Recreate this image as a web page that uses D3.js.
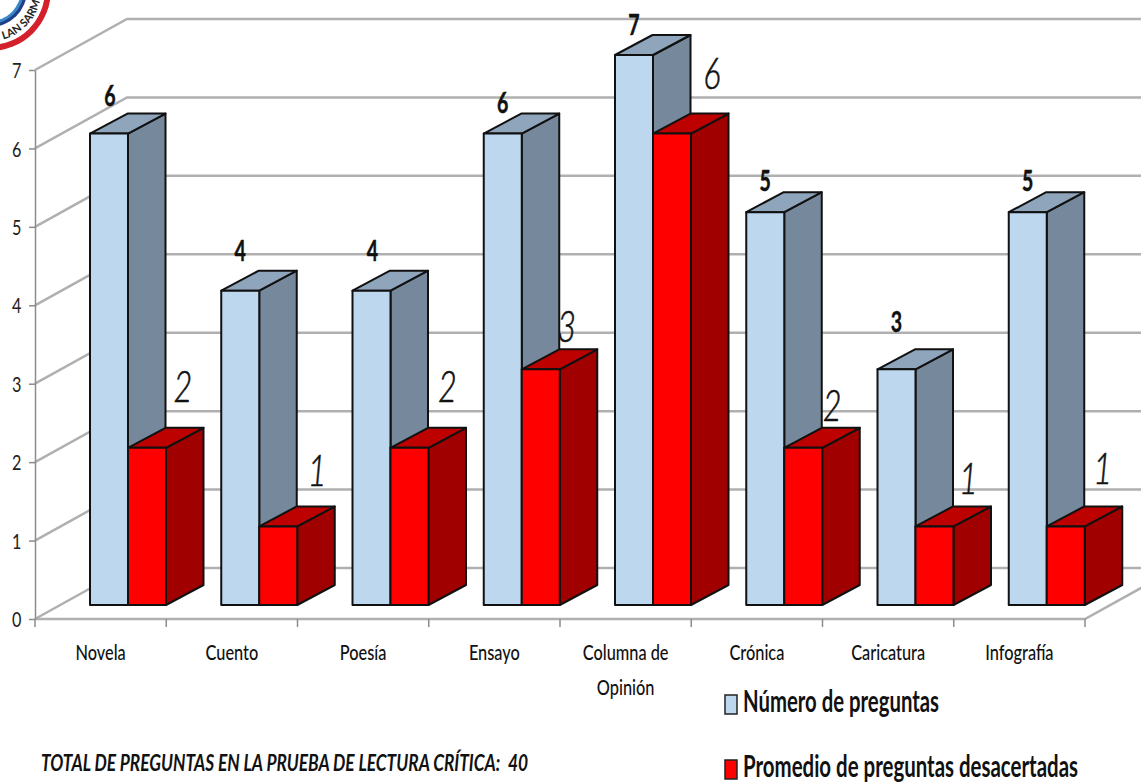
<!DOCTYPE html>
<html>
<head>
<meta charset="utf-8">
<script src="https://d3js.org/d3.v7.min.js"></script>
<style>
html,body{margin:0;padding:0;background:#fff;overflow:hidden}
svg{display:block}
text{font-family:Lato,"Open Sans",sans-serif;fill:#111}
</style>
</head>
<body>
<script>
// Question counts per text type in the critical reading test
const categories = ["Novela","Cuento","Poesía","Ensayo","Columna de Opinión","Crónica","Caricatura","Infografía"];
const numeroPreguntas = [6,4,4,6,7,5,3,5];
const promedioDesacertadas = [2,1,2,3,6,2,1,1];
const yTicks = [0,1,2,3,4,5,6,7];
const seriesNames = ["Número de preguntas","Promedio de preguntas desacertadas"];
const footerNote = "TOTAL DE PREGUNTAS EN LA PRUEBA DE LECTURA CRÍTICA:  40";

// Hand placement of value labels relative to their columns
const blueNudge = [[1,-36],[0,-38],[1,-38],[0,-29],[0,-28],[0,-29],[0,-45],[0,-29]];
const redNudge = [[55,-60],[58,-54],[57,-60],[45,-41],[59,-59],[48,-41],[53,-46],[56,-56]];

const W = 1141, H = 783;
const svg = d3.select("body").append("svg").attr("width",W).attr("height",H);

const depthX = 92, depthY = 51;       // chart box depth
const barDX = 37.5, barDY = 20;       // column depth
const left = 35, right = 1085, base = 619;
const x = d3.scaleBand().domain(categories).range([left,right]);
const yFront = d3.scaleLinear().domain([0,7]).range([base,70]);
const barH = d3.scaleLinear().domain([0,7]).range([0,550]);
const barBase = 605;
const bw = 38;
const barX = (i,k) => x(categories[i]) + 55 + k*bw;

const wall = "#b0b0b0";

// school crest, mostly outside the top-left corner
const crest = svg.append("g").attr("transform","translate(-10,-10)");
[[61,"#d3202a"],[55,"#fff"],[37,"#1f3f86"],[34,"#3b86c8"],[31,"#fff"]].forEach(d=>{
  crest.append("circle").attr("r",d[0]).attr("fill",d[1]);
});
crest.append("path").attr("id","crestArc").attr("d","M 13.2 49.3 A 51 51 0 0 0 51 0").attr("fill","none");
crest.append("text").attr("font-size",11).attr("font-weight","bold").style("fill","#222")
  .append("textPath").attr("href","#crestArc").text("LAN SARMI");

// gridlines: front edge, slanted left wall, back wall
const grid = svg.append("g").attr("fill","none").attr("stroke",wall).attr("stroke-width",2.5);
grid.selectAll("path").data(yTicks).join("path")
  .attr("d", d => d3.line()([[left,yFront(d)],[left+depthX,yFront(d)-depthY],[W,yFront(d)-depthY]]));
// floor front edge and right side
grid.append("path").attr("d", d3.line()([[left,base],[right,base],[right+depthX,base-depthY]]));

// axes
const yAxis = d3.axisLeft(yFront).tickValues(yTicks).tickFormat(d3.format("d")).tickSize(6).tickSizeOuter(0).tickPadding(9);
const ya = svg.append("g").attr("transform",`translate(${left},0)`).call(yAxis);
ya.select(".domain").attr("stroke","#8c8c8c").attr("stroke-width",1.5);
ya.selectAll(".tick line").attr("stroke","#8c8c8c").attr("stroke-width",1.5);
ya.selectAll("text").attr("font-size",18).attr("font-family",null).style("fill","#222")
  .attr("transform","translate(0,1) scale(0.9,1.15)");

const bandTicks = d3.range(categories.length+1).map(i => left + i*x.bandwidth());
svg.append("g").selectAll("line").data(bandTicks).join("line")
  .attr("x1",d=>d).attr("x2",d=>d).attr("y1",base).attr("y2",base+8)
  .attr("stroke","#8c8c8c").attr("stroke-width",1.5);

const xAxis = d3.axisBottom(x).tickSize(0).tickFormat("");
const xa = svg.append("g").attr("transform",`translate(0,${base})`).attr("font-family",null).call(xAxis);
xa.select(".domain").remove();
xa.selectAll(".tick").each(function(d){
  const lines = d === "Columna de Opinión" ? ["Columna de","Opinión"] : [d];
  d3.select(this).select("text").remove();
  d3.select(this).selectAll("text.lab").data(lines).join("text").attr("class","lab")
    .attr("text-anchor","middle").attr("font-size",19).attr("font-weight",500)
    .attr("transform",(l,i)=>`translate(0,${41+i*35}) scale(0.86,1.15)`)
    .text(l=>l);
});

// one extruded column: side, top, then front
function drawBar(g,i,k,v,c){
  const x0 = barX(i,k), h = barH(v), top = barBase-h;
  const line = d3.line();
  const st = {stroke:"#111","stroke-width":2,"stroke-linejoin":"round"};
  const add = (pts,fill) => { const p = g.append("path").attr("d",line(pts)+"Z").attr("fill",fill);
    Object.entries(st).forEach(([a,b])=>p.attr(a,b)); };
  add([[x0+bw,barBase],[x0+bw+barDX,barBase-barDY],[x0+bw+barDX,top-barDY],[x0+bw,top]],c.side);
  add([[x0,top],[x0+barDX,top-barDY],[x0+bw+barDX,top-barDY],[x0+bw,top]],c.top);
  add([[x0,barBase],[x0,top],[x0+bw,top],[x0+bw,barBase]],c.front);
}
const blue = {front:"#bdd7ee",side:"#76889b",top:"#8fa5bc"};
const red = {front:"#ff0000",side:"#a00000",top:"#bd0000"};
const bars = svg.append("g");
categories.forEach((c,i)=>{
  drawBar(bars,i,0,numeroPreguntas[i],blue);
  drawBar(bars,i,1,promedioDesacertadas[i],red);
});

// value labels
svg.append("g").selectAll("text").data(numeroPreguntas).join("text")
  .attr("text-anchor","middle").attr("font-size",23).attr("font-weight","bold")
  .attr("stroke","#111").attr("stroke-width",0.4)
  .attr("transform",(d,i)=>`translate(${barX(i,0)+bw/2+blueNudge[i][0]},${barBase-barH(d)+blueNudge[i][1]+8}) scale(0.85,1.25)`)
  .text(d=>d);
svg.append("g").selectAll("text").data(promedioDesacertadas).join("text")
  .attr("text-anchor","middle").attr("font-size",36).attr("font-style","italic").attr("font-weight",300)
  .attr("stroke","#111").attr("stroke-width",0.5)
  .attr("transform",(d,i)=>`translate(${barX(i,1)+redNudge[i][0]},${barBase-barH(d)+redNudge[i][1]+14}) scale(0.9,1.2)`)
  .text(d=>d);

// legend, each entry fitted to a fixed run length
const legend = svg.append("g");
[["#bdd7ee",704,196],["#ff0000",769,335]].forEach((d,i)=>{
  legend.append("rect").attr("x",725).attr("y",d[1]-9).attr("width",12).attr("height",19)
    .attr("fill",d[0]).attr("stroke","#222").attr("stroke-width",1.5);
  legend.append("text").attr("transform",`translate(743,${d[1]+8}) scale(1,1.25)`)
    .attr("font-size",24).attr("font-weight","bold")
    .attr("textLength",d[2]).attr("lengthAdjust","spacingAndGlyphs").text(seriesNames[i]);
});

// footer note
svg.append("text").attr("transform","translate(41,771) scale(1,1.2)")
  .attr("font-size",19).attr("font-weight","bold").attr("font-style","italic")
  .attr("textLength",487).attr("lengthAdjust","spacingAndGlyphs")
  .style("white-space","pre").text(footerNote);
</script>
</body>
</html>
